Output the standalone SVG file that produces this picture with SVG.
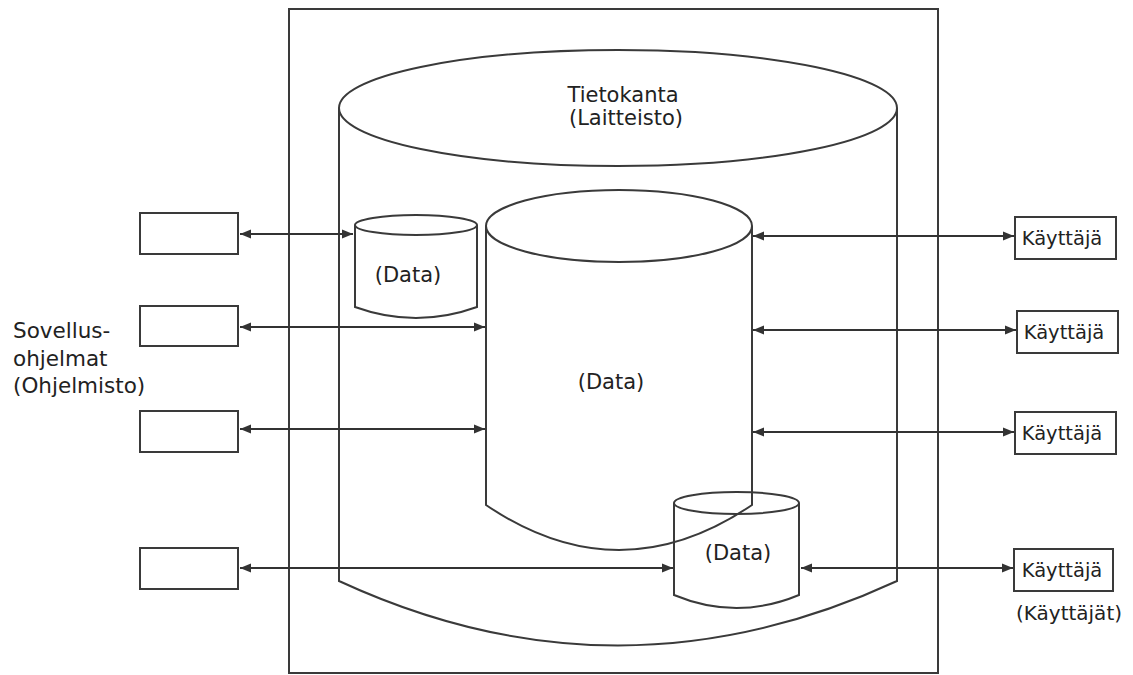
<svg xmlns="http://www.w3.org/2000/svg" width="1133" height="675" viewBox="0 0 1133 675">
<defs>
<marker id="ah" viewBox="0 0 11 10" refX="11" refY="5" markerWidth="11" markerHeight="10" markerUnits="userSpaceOnUse" orient="auto-start-reverse">
<path d="M0,0.5 L11,5 L0,9.5 z" fill="#333"/>
</marker>
<style>
.s{fill:none;stroke:#3a3a3a;stroke-width:2}
.b{fill:#fff;stroke:#3a3a3a;stroke-width:2}
.c{fill:none;stroke:#333;stroke-width:1.8;marker-start:url(#ah);marker-end:url(#ah)}
.t{font-family:"DejaVu Sans",sans-serif;font-size:21px;fill:#222}
.u{font-size:19.5px}
.l{font-size:21.5px}
.m{text-anchor:middle}
</style>
</defs>
<rect width="1133" height="675" fill="#fff"/>
<g id="system">
<rect class="s" x="289" y="9" width="649" height="664"/>
</g>
<g id="tietokanta">
<ellipse class="s" cx="618" cy="108" rx="279" ry="58"/>
<path class="s" d="M339,108 V581 Q618,710 897,581 V108"/>
<text class="t m" x="623" y="102">Tietokanta</text>
<text class="t m" x="626" y="125">(Laitteisto)</text>
</g>
<g id="data-main">
<ellipse class="s" cx="619" cy="226" rx="133" ry="36"/>
<path class="s" d="M486,226 V505 Q619,595 752,505 V226"/>
<text class="t m" x="611" y="389">(Data)</text>
</g>
<g id="data-top">
<ellipse class="s" cx="416" cy="225" rx="61" ry="10"/>
<path class="s" d="M355,225 V307 Q416,329 477,307 V225"/>
<text class="t m" x="408" y="282">(Data)</text>
</g>
<g id="data-bottom">
<ellipse class="s" cx="736.5" cy="503" rx="62.5" ry="11"/>
<path class="s" d="M674,503 V595 Q736.5,621 799,595 V503"/>
<text class="t m" x="738" y="560">(Data)</text>
</g>
<g id="app1"><rect class="b" x="140" y="213" width="98" height="41"/></g>
<g id="app2"><rect class="b" x="140" y="306" width="98" height="40"/></g>
<g id="app3"><rect class="b" x="140" y="411" width="98" height="41"/></g>
<g id="app4"><rect class="b" x="140" y="548" width="98" height="41"/></g>
<g id="apps-label">
<text class="t l" x="13" y="338">Sovellus-</text>
<text class="t l" x="13" y="366">ohjelmat</text>
<text class="t l" x="13" y="393">(Ohjelmisto)</text>
</g>
<g id="user1"><rect class="b" x="1015" y="217" width="101" height="42"/><text class="t u m" x="1062" y="245">Käyttäjä</text></g>
<g id="user2"><rect class="b" x="1017" y="311" width="101" height="42"/><text class="t u m" x="1064" y="339">Käyttäjä</text></g>
<g id="user3"><rect class="b" x="1015" y="412" width="101" height="42"/><text class="t u m" x="1062" y="440">Käyttäjä</text></g>
<g id="user4"><rect class="b" x="1014" y="549" width="99" height="42"/><text class="t u m" x="1062" y="577">Käyttäjä</text></g>
<g id="users-label"><text class="t m" x="1069" y="620" style="font-size:20px">(Käyttäjät)</text></g>
<g id="connectors">
<line class="c" x1="240" y1="234" x2="353" y2="234"/>
<line class="c" x1="240" y1="327" x2="485" y2="327"/>
<line class="c" x1="240" y1="429" x2="485" y2="429"/>
<line class="c" x1="240" y1="568" x2="673" y2="568"/>
<line class="c" x1="753" y1="236" x2="1014" y2="236"/>
<line class="c" x1="753" y1="330" x2="1016" y2="330"/>
<line class="c" x1="753" y1="432" x2="1014" y2="432"/>
<line class="c" x1="801" y1="568" x2="1013" y2="568"/>
</g>
</svg>
